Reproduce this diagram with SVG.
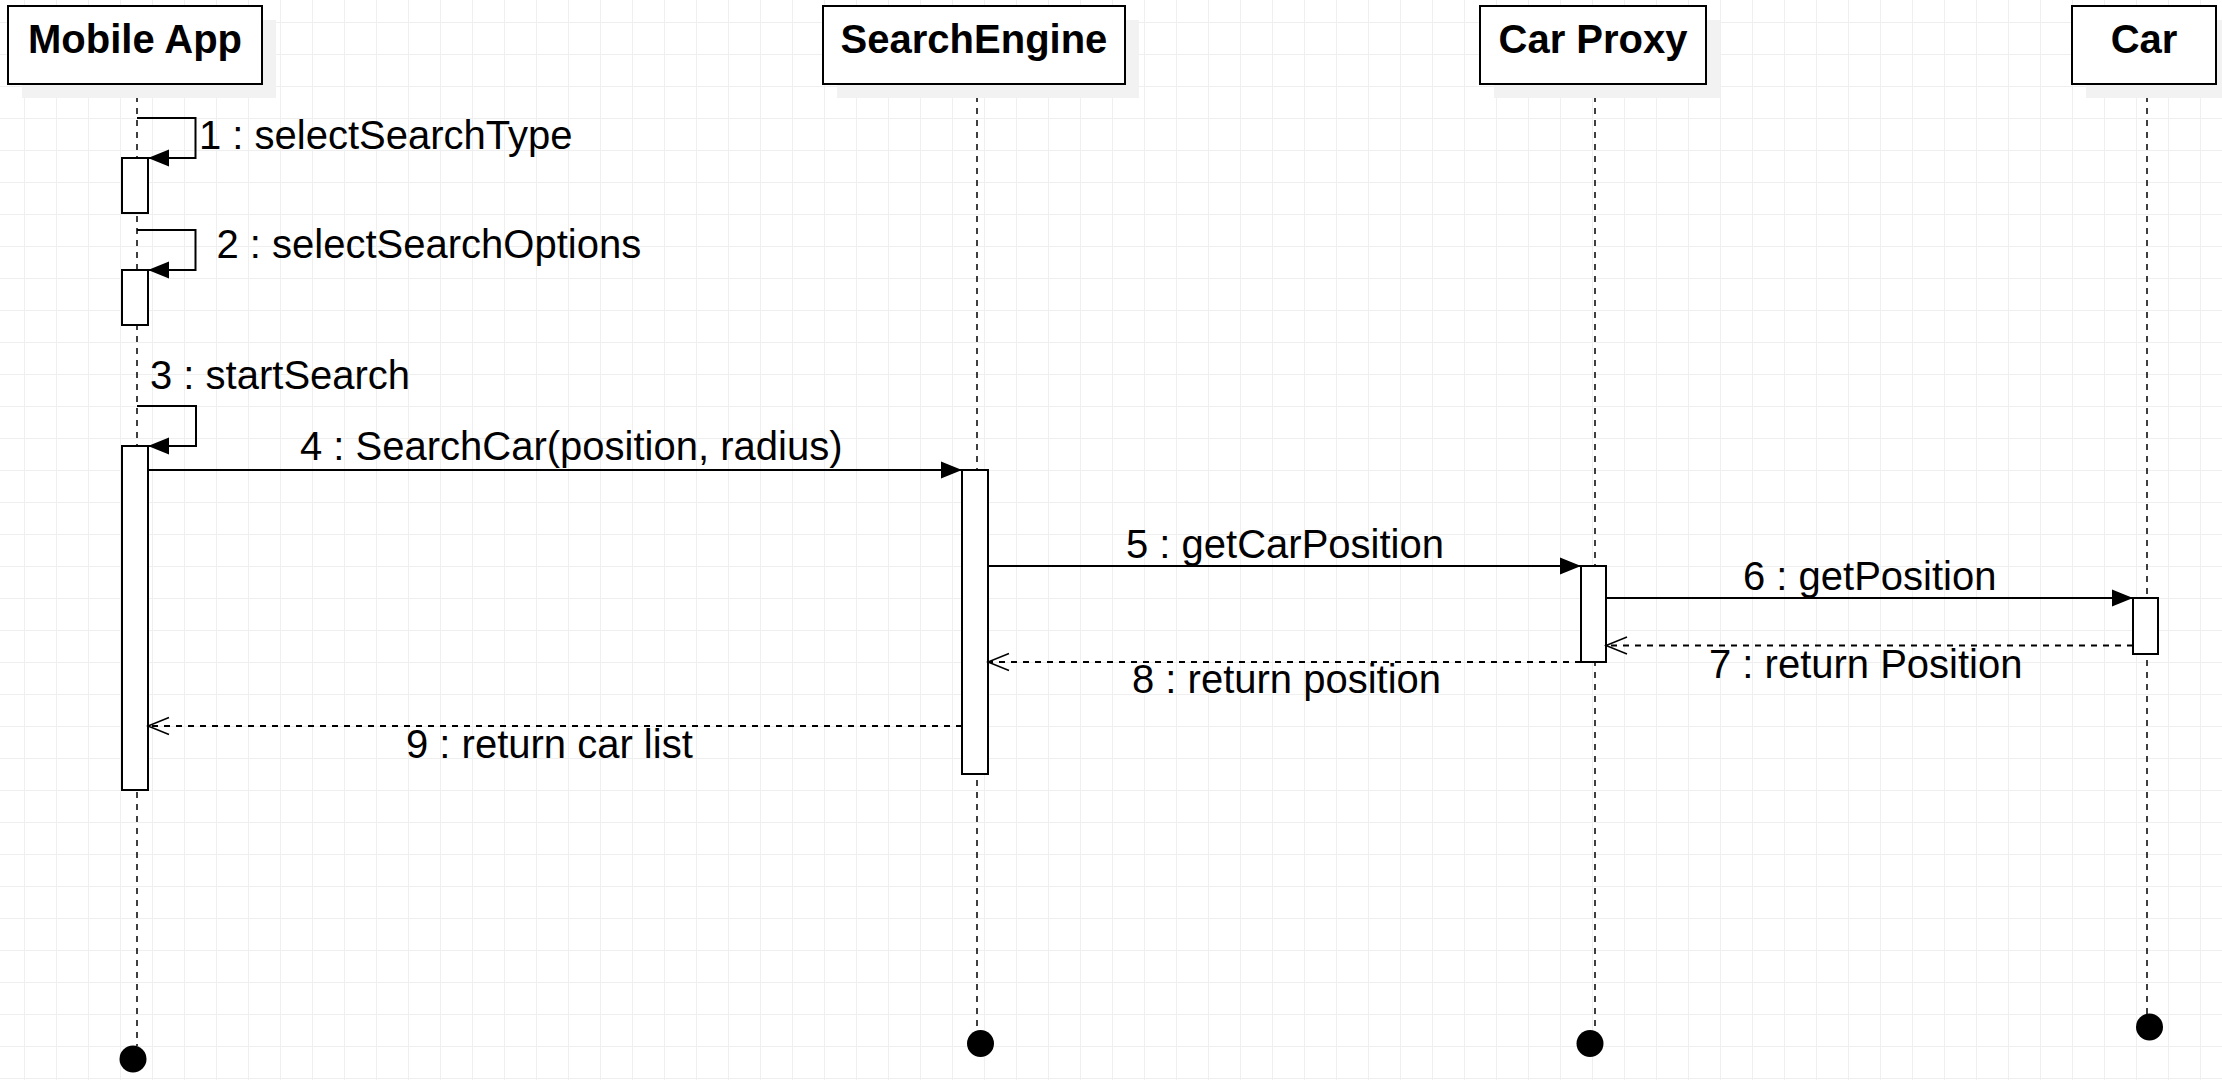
<svg xmlns="http://www.w3.org/2000/svg" width="2222" height="1080" viewBox="0 0 2222 1080">
<defs>
<pattern id="grid" x="24" y="22" width="32" height="32" patternUnits="userSpaceOnUse">
<path d="M0.5 0V32M0 0.5H32" fill="none" stroke="#efefef" stroke-width="1"/>
</pattern>
<marker id="fill" markerUnits="userSpaceOnUse" markerWidth="22" markerHeight="18" viewBox="0 0 22 18" refX="21" refY="9" orient="auto">
<path d="M0 0.5L21 9L0 17.5Z" fill="#000"/>
</marker>
<marker id="open" markerUnits="userSpaceOnUse" markerWidth="24" markerHeight="20" viewBox="-1 -1 24 20" refX="21" refY="9" orient="auto">
<path d="M0 0.5L21 9L0 17.5" fill="none" stroke="#000" stroke-width="1.5"/>
</marker>
</defs>
<style>
.shadow{fill:#f2f2f2;stroke:none}
.box{fill:#fff;stroke:#000;stroke-width:2}
.title{font-family:"Liberation Sans",Arial,sans-serif;font-weight:bold;font-size:40px;fill:#000;text-anchor:middle}
.lbl{font-family:"Liberation Sans",Arial,sans-serif;font-size:40px;fill:#000}
.life{stroke:#000;stroke-width:1.5;stroke-dasharray:6 6;fill:none}
.act{fill:#fff;stroke:#000;stroke-width:2}
.msg{fill:none;stroke:#000;stroke-width:2;marker-end:url(#fill)}
.ret{fill:none;stroke:#000;stroke-width:2;stroke-dasharray:6 6;marker-end:url(#open)}
.end{fill:#000}
</style>
<rect width="2222" height="1080" fill="#fff"/>
<rect width="2222" height="1080" fill="url(#grid)"/>

<g id="lifelines">
<path class="life" d="M137 84V1046"/>
<path class="life" d="M977 84V1030"/>
<path class="life" d="M1595 84V1030"/>
<path class="life" d="M2147 84V1014"/>
</g>

<g id="node-mobileapp">
<rect class="shadow" x="22" y="20" width="254" height="78"/>
<rect class="box" x="8" y="6" width="254" height="78"/>
<text class="title" x="135" y="53">Mobile App</text>
<circle class="end" cx="133" cy="1059" r="13.5"/>
</g>
<g id="node-searchengine">
<rect class="shadow" x="837" y="20" width="302" height="78"/>
<rect class="box" x="823" y="6" width="302" height="78"/>
<text class="title" x="974" y="53">SearchEngine</text>
<circle class="end" cx="980.5" cy="1043.5" r="13.5"/>
</g>
<g id="node-carproxy">
<rect class="shadow" x="1494" y="20" width="226" height="78"/>
<rect class="box" x="1480" y="6" width="226" height="78"/>
<text class="title" x="1593" y="53">Car Proxy</text>
<circle class="end" cx="1590" cy="1043.5" r="13.5"/>
</g>
<g id="node-car">
<rect class="shadow" x="2086" y="20" width="144" height="78"/>
<rect class="box" x="2072" y="6" width="144" height="78"/>
<text class="title" x="2144" y="53">Car</text>
<circle class="end" cx="2149.5" cy="1027" r="13.5"/>
</g>

<g id="activations">
<rect class="act" x="122" y="158" width="26" height="55"/>
<rect class="act" x="122" y="270" width="26" height="55"/>
<rect class="act" x="122" y="446" width="26" height="344"/>
<rect class="act" x="962" y="470" width="26" height="304"/>
<rect class="act" x="1581" y="566" width="25" height="96"/>
<rect class="act" x="2133" y="598" width="25" height="56"/>
</g>

<g id="connectors">
<path class="msg" d="M137 118H195.5V158H148"/>
<path class="msg" d="M137 230H195.5V270H148"/>
<path class="msg" d="M137 406H196V446H148"/>
<path class="msg" d="M148 470H962"/>
<path class="msg" d="M988 566H1581"/>
<path class="msg" d="M1606 598H2133"/>
<path class="ret" d="M2133 645.5H1606"/>
<path class="ret" d="M1581 662H988"/>
<path class="ret" d="M962 726H148"/>
</g>

<g id="labels">
<text class="lbl" x="199" y="149">1 : selectSearchType</text>
<text class="lbl" x="216.5" y="258">2 : selectSearchOptions</text>
<text class="lbl" x="150" y="389">3 : startSearch</text>
<text class="lbl" x="300" y="460">4 : SearchCar(position, radius)</text>
<text class="lbl" x="1126" y="558">5 : getCarPosition</text>
<text class="lbl" x="1743" y="590">6 : getPosition</text>
<text class="lbl" x="1709" y="678">7 : return Position</text>
<text class="lbl" x="1132" y="693">8 : return position</text>
<text class="lbl" x="406" y="758">9 : return car list</text>
</g>
</svg>
